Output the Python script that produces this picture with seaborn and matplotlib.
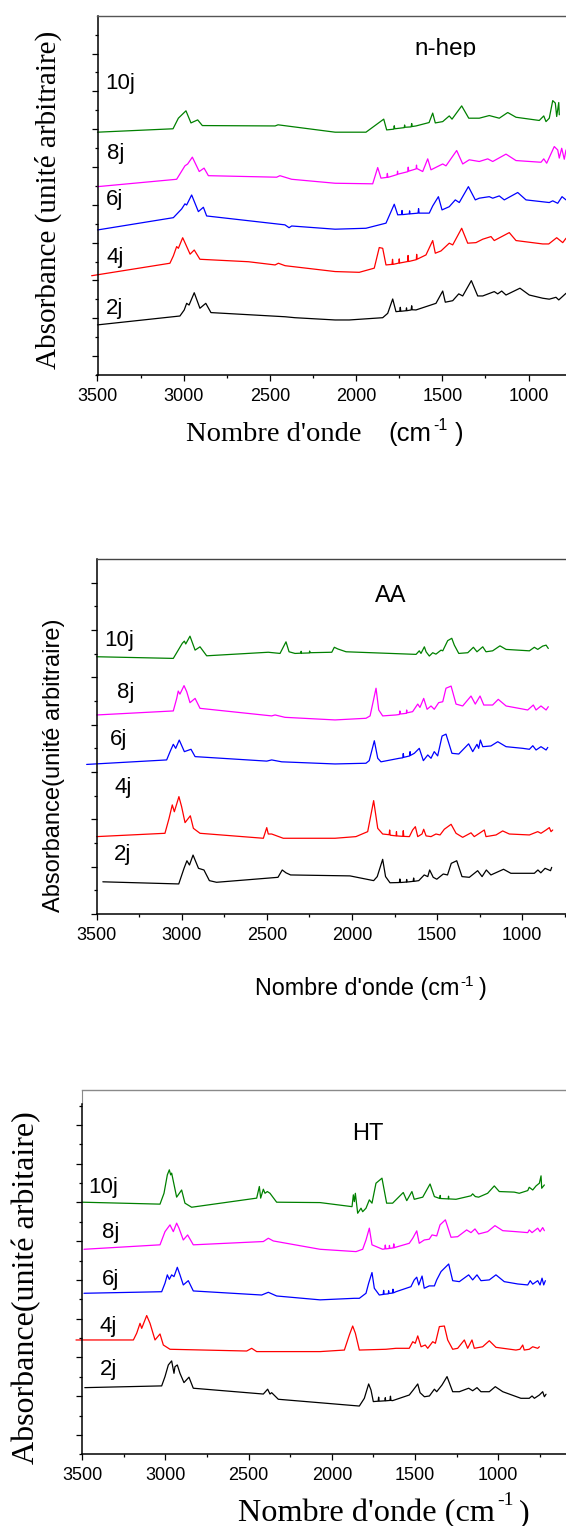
import matplotlib
matplotlib.use("Agg")
import matplotlib.pyplot as plt
import seaborn as sns
from matplotlib.ticker import MultipleLocator, FixedLocator, NullFormatter
from matplotlib.transforms import Bbox, TransformedBbox

# ---------------- n-heptane series ----------------
NHEP_2J_WN = [3500, 3022, 2997, 2983, 2969, 2939, 2906, 2872, 2842, 2412, 2355, 2122, 2040, 1846, 1817, 1788, 1769,
              1747, 1744, 1741, 1710, 1708, 1706, 1681, 1678, 1675,
              1653, 1537, 1498, 1483, 1440, 1405, 1382, 1332, 1295, 1266, 1199, 1179, 1156, 1131, 1050, 996, 918, 880, 841, 825, 783]
NHEP_2J_AB = [2.65, 3.12, 3.44, 3.79, 3.70, 4.35, 3.53, 3.79, 3.30, 3.08, 3.03, 2.91, 2.91, 3.03, 3.26, 4.02, 3.35,
              3.37, 3.58, 3.37, 3.40, 3.55, 3.40, 3.44, 3.66, 3.45,
              3.44, 3.79, 4.44, 3.85, 3.93, 4.29, 4.18, 4.99, 4.18, 4.18, 4.41, 4.29, 4.44, 4.23, 4.59, 4.23, 4.06, 4.01, 4.11, 3.97, 4.32]

NHEP_4J_WN = [3534, 3080, 3060, 3041, 3031, 3006, 2993, 2963, 2939, 2906, 2625, 2470, 2451, 2412, 2122, 1982, 1895, 1866, 1846, 1827,
              1792, 1789, 1786, 1752, 1750, 1748, 1702, 1699, 1696, 1651, 1649, 1647,
              1595, 1556, 1541, 1508, 1460, 1440, 1388, 1353, 1305, 1266, 1218, 1199, 1112, 1073, 918, 883, 837, 802, 783]
NHEP_4J_AB = [5.25, 5.91, 6.30, 6.79, 6.70, 7.26, 7.00, 6.39, 6.61, 6.12, 5.99, 5.82, 5.91, 5.78, 5.47, 5.43, 5.65, 6.74, 6.70, 5.82,
              5.85, 6.12, 5.85, 5.92, 6.14, 5.92, 6.00, 6.32, 6.00, 6.10, 6.38, 6.12,
              6.35, 7.11, 6.44, 6.56, 6.97, 6.88, 7.76, 6.97, 7.00, 7.18, 7.32, 7.11, 7.53, 7.11, 6.93, 6.93, 7.26, 7.00, 7.23]

NHEP_6J_WN = [3500, 3060, 3012, 2993, 2983, 2954, 2915, 2886, 2867, 2413, 2389, 2374, 2122, 1943, 1827, 1779, 1759,
              1737, 1734, 1731, 1692, 1690, 1688, 1641, 1638, 1635,
              1576, 1556, 1523, 1502, 1460, 1425, 1402, 1349, 1309, 1286, 1228, 1208, 1170, 1141, 1063, 1015, 880, 860, 831, 806, 783]
NHEP_6J_AB = [7.67, 8.32, 8.78, 9.05, 8.99, 9.52, 8.64, 8.87, 8.41, 7.94, 7.79, 7.88, 7.71, 7.76, 8.03, 9.03, 8.47,
              8.48, 8.70, 8.48, 8.52, 8.68, 8.52, 8.56, 8.80, 8.56,
              8.56, 8.94, 9.43, 8.73, 8.90, 9.26, 9.12, 9.96, 9.26, 9.35, 9.43, 9.35, 9.47, 9.26, 9.65, 9.26, 9.12, 9.21, 9.08, 9.43, 9.26]

NHEP_8J_WN = [3500, 3041, 2993, 2977, 2950, 2910, 2882, 2857, 2461, 2442, 2374, 2122, 1904, 1875, 1856,
              1822, 1819, 1816, 1762, 1760, 1758, 1701, 1698, 1695, 1652, 1650, 1648,
              1614, 1585, 1566, 1498, 1479, 1417, 1382, 1344, 1286, 1237, 1208, 1131, 1073, 928, 912, 895, 851, 831, 822, 808, 793, 783]
NHEP_8J_AB = [9.96, 10.35, 11.06, 11.16, 11.52, 10.76, 10.94, 10.54, 10.46, 10.54, 10.35, 10.14, 10.11, 10.97, 10.41,
              10.45, 10.66, 10.45, 10.60, 10.78, 10.62, 10.75, 10.99, 10.78, 10.90, 11.10, 10.92,
              10.76, 11.43, 10.85, 11.16, 11.06, 11.87, 11.16, 11.38, 11.29, 11.43, 11.29, 11.68, 11.34, 11.25, 11.43, 11.20, 12.08, 11.90, 11.47, 11.99, 11.41, 11.90]

NHEP_10J_WN = [3500, 3062, 3031, 2987, 2958, 2919, 2892, 2470, 2453, 2122, 1943, 1840, 1823,
               1782, 1779, 1776, 1721, 1719, 1717, 1681, 1678, 1675,
               1653, 1577, 1556, 1541, 1498, 1460, 1444, 1388, 1347, 1286, 1228, 1170, 1121, 1073, 938, 912, 899, 880, 860, 845, 837, 825, 822]
NHEP_10J_AB = [12.84, 13.02, 13.58, 13.97, 13.33, 13.49, 13.19, 13.17, 13.23, 12.84, 12.84, 13.53, 12.96,
               13.00, 13.18, 13.02, 13.08, 13.22, 13.10, 13.12, 13.30, 13.14,
               13.17, 13.35, 13.85, 13.33, 13.40, 13.70, 13.53, 14.23, 13.58, 13.58, 13.72, 13.58, 13.88, 13.63, 13.46, 13.70, 13.40, 13.58, 14.51, 14.38, 13.67, 14.41, 13.76]

# ---------------- AA series ----------------
AA_2J_WN = [3464, 3018, 2987, 2970, 2955, 2934, 2902, 2870, 2838, 2796, 2435, 2410, 2388, 2361, 2012, 1873, 1852, 1820, 1803, 1777,
            1722, 1719, 1716, 1681, 1679, 1677, 1641, 1638, 1635,
            1608, 1576, 1555, 1544, 1523, 1502, 1464, 1439, 1417, 1385, 1354, 1311, 1262, 1236, 1211, 1184, 1110, 1067, 929, 908, 891, 866, 834, 827]
AA_2J_AB = [1.36, 1.27, 1.93, 2.25, 2.07, 2.49, 1.93, 1.86, 1.41, 1.34, 1.55, 1.86, 1.74, 1.65, 1.61, 1.41, 1.58, 2.31, 1.58, 1.32,
            1.33, 1.48, 1.33, 1.35, 1.46, 1.35, 1.38, 1.52, 1.38,
            1.41, 1.65, 1.58, 1.86, 1.55, 1.47, 1.69, 1.65, 2.14, 2.25, 1.58, 1.55, 1.83, 1.58, 1.86, 1.65, 1.89, 1.72, 1.72, 1.86, 1.74, 1.93, 1.83, 1.97]

AA_4J_WN = [3500, 3099, 3075, 3056, 3044, 3017, 3001, 2981, 2950, 2932, 2893, 2521, 2501, 2492, 2472, 2404, 2100, 1977, 1908, 1873, 1849, 1820,
            1782, 1779, 1776, 1741, 1739, 1737, 1702, 1699, 1696,
            1663, 1644, 1628, 1614, 1589, 1579, 1565, 1536, 1507, 1483, 1458, 1418, 1389, 1350, 1301, 1282, 1252, 1223, 1213, 1154,
            1115, 1076, 958, 909, 890, 860, 841, 831, 821]
AA_4J_AB = [3.27, 3.41, 4.04, 4.61, 4.32, 4.96, 4.53, 3.86, 4.15, 3.62, 3.41, 3.20, 3.65, 3.38, 3.38, 3.20, 3.20, 3.27, 3.48, 4.79, 3.62, 3.38,
            3.35, 3.55, 3.33, 3.30, 3.48, 3.30, 3.28, 3.52, 3.28,
            3.27, 3.55, 3.69, 3.27, 3.38, 3.58, 3.30, 3.27, 3.38, 3.34, 3.58, 3.79, 3.41, 3.24, 3.43, 3.27, 3.41, 3.55, 3.27, 3.34,
            3.51, 3.38, 3.34, 3.48, 3.41, 3.55, 3.65, 3.48, 3.55]

AA_6J_WN = [3559, 3089, 3069, 3050, 3036, 3015, 2985, 2946, 2922, 2501, 2472, 2413, 2100, 1918, 1899, 1869, 1849, 1830, 1722,
            1702, 1699, 1696, 1661, 1659, 1657,
            1634, 1605, 1581, 1555, 1536, 1517, 1497, 1471, 1448, 1413, 1373, 1315, 1291, 1266, 1256, 1246, 1232, 1184, 1144, 1095,
            997, 958, 938, 919, 890, 860, 850]
AA_6J_AB = [6.32, 6.51, 6.86, 7.17, 7.00, 7.35, 6.86, 6.96, 6.65, 6.46, 6.51, 6.43, 6.34, 6.37, 6.48, 7.32, 6.58, 6.43, 6.58,
            6.60, 6.78, 6.62, 6.68, 6.86, 6.70,
            6.79, 7.00, 6.48, 6.72, 6.58, 6.86, 6.68, 7.52, 7.60, 6.79, 6.76, 7.19, 6.86, 7.17, 7.00, 7.35, 7.07, 7.10, 7.28, 7.07,
            7.00, 6.96, 7.11, 6.93, 7.07, 6.93, 7.04]

AA_8J_WN = [3500, 3050, 3030, 3021, 3011, 2987, 2971, 2952, 2922, 2893, 2472, 2452, 2394, 2100, 1918, 1894, 1859, 1843, 1820, 1742,
            1722, 1719, 1716, 1681, 1679, 1677,
            1644, 1614, 1601, 1579, 1559, 1536, 1517, 1491, 1467, 1448, 1418, 1389, 1350, 1301, 1276, 1248, 1226, 1174, 1141, 1095,
            997, 968, 935, 919, 890, 860, 847]
AA_8J_AB = [8.41, 8.58, 9.11, 9.42, 9.29, 9.65, 9.39, 8.93, 9.11, 8.69, 8.37, 8.41, 8.31, 8.20, 8.27, 8.37, 9.54, 8.62, 8.37, 8.41,
            8.43, 8.58, 8.45, 8.48, 8.62, 8.50,
            8.55, 8.87, 8.73, 9.11, 8.65, 8.79, 8.65, 8.93, 8.97, 9.54, 9.63, 8.87, 8.79, 9.21, 8.87, 9.21, 8.83, 8.83, 9.07, 8.79,
            8.66, 8.62, 8.83, 8.62, 8.79, 8.62, 8.76]

AA_10J_WN = [3500, 3050, 3021, 2997, 2985, 2977, 2952, 2922, 2893, 2854, 2492, 2423, 2388, 2370, 2335,
             2301, 2299, 2297, 2251, 2249, 2247,
             2119, 2104, 2084, 2035, 1624, 1605, 1595, 1575, 1565, 1546, 1526, 1507, 1477, 1467, 1438, 1414, 1399, 1373, 1320, 1287,
             1266, 1232, 1213, 1174, 1131, 1095, 958, 929, 909, 880, 860, 847]
AA_10J_AB = [10.87, 10.80, 11.15, 11.44, 11.53, 11.41, 11.74, 11.15, 11.29, 10.91, 11.06, 11.01, 11.50, 11.08, 11.01,
             11.02, 11.10, 11.02, 11.03, 11.11, 11.04,
             11.06, 11.27, 11.20, 11.08, 10.97, 11.12, 11.01, 11.29, 11.08, 10.90, 11.04, 10.98, 11.15, 11.12, 11.55, 11.65, 11.36, 11.01, 11.04, 11.27,
             11.08, 11.29, 11.08, 11.12, 11.33, 11.18, 11.12, 11.27, 11.18, 11.32, 11.36, 11.22]

# ---------------- HT series ----------------
HT_2J_WN = [3485, 3023, 3003, 2983, 2963, 2949, 2943, 2929, 2913, 2889, 2859, 2833, 2412, 2386, 2372, 2362, 2322, 2071, 1835, 1805, 1779, 1765, 1751,
            1722, 1719, 1716, 1681, 1679, 1677, 1651, 1648, 1645,
            1635, 1535, 1511, 1484, 1470, 1444, 1414, 1384, 1370, 1338, 1308, 1274, 1234, 1178, 1154, 1128, 1104, 1054, 1018, 973,
            864, 814, 797, 783, 753, 733, 723, 713]
HT_2J_AB = [3.44, 3.53, 4.01, 4.61, 4.82, 4.18, 4.52, 4.61, 4.18, 3.70, 3.98, 3.41, 3.11, 3.36, 3.11, 3.18, 2.84, 2.66, 2.49, 2.89, 3.63, 3.32, 2.72,
            2.74, 2.95, 2.74, 2.76, 2.92, 2.76, 2.78, 3.00, 2.78,
            2.77, 3.06, 3.32, 3.63, 3.18, 2.97, 3.01, 3.36, 3.23, 3.58, 4.01, 3.23, 3.23, 3.41, 3.28, 3.44, 3.23, 3.23, 3.49, 3.23,
            2.89, 2.89, 3.01, 2.89, 3.06, 3.23, 2.97, 3.10]

HT_4J_WN = [3538, 3193, 3173, 3153, 3143, 3113, 3093, 3063, 3033, 3013, 2973, 2512, 2482, 2452, 2071, 1925, 1895, 1875, 1859, 1835,
            1675, 1615, 1535, 1514, 1499, 1484, 1464, 1439, 1424, 1394, 1378, 1354, 1324, 1304, 1274, 1244, 1204, 1184, 1158, 1144,
            1094, 1054, 1014, 894, 870, 853, 844, 814, 793, 763, 753]
HT_4J_AB = [5.90, 5.90, 6.25, 6.76, 6.50, 7.16, 6.76, 5.90, 6.21, 5.64, 5.42, 5.33, 5.47, 5.30, 5.30, 5.38, 6.16, 6.62, 6.25, 5.38,
            5.42, 5.47, 5.47, 5.81, 5.73, 6.11, 5.55, 5.64, 5.47, 5.81, 5.73, 6.59, 6.62, 5.90, 5.42, 5.47, 5.90, 5.47, 5.90, 5.47,
            5.55, 5.86, 5.52, 5.38, 5.42, 5.64, 5.38, 5.42, 5.55, 5.47, 5.55]

HT_6J_WN = [3490, 3023, 3003, 2989, 2977, 2963, 2949, 2929, 2913, 2893, 2863, 2833, 2422, 2382, 2332, 2071, 1865, 1835, 1795, 1779, 1759, 1745, 1715,
            1692, 1689, 1686, 1661, 1659, 1657, 1636, 1633, 1630,
            1615, 1525, 1505, 1490, 1478, 1458, 1445, 1415, 1384, 1370, 1344, 1298, 1274, 1234, 1178, 1154, 1128, 1104, 1054, 1014,
            964, 883, 823, 808, 793, 763, 749, 737, 727, 717]
HT_6J_AB = [8.31, 8.39, 8.83, 9.26, 9.03, 9.26, 9.17, 9.65, 9.26, 8.74, 8.96, 8.43, 8.22, 8.36, 8.17, 7.97, 8.05, 8.05, 8.31, 8.83, 9.38, 8.57, 8.22,
            8.25, 8.46, 8.26, 8.28, 8.44, 8.30, 8.32, 8.52, 8.33,
            8.39, 8.65, 9.00, 9.14, 8.74, 9.20, 8.57, 8.69, 8.69, 9.00, 9.43, 9.82, 8.96, 8.91, 9.26, 9.00, 9.26, 8.96, 9.00, 9.26,
            8.91, 8.79, 8.74, 8.96, 8.78, 8.96, 8.74, 9.09, 8.74, 8.96]

HT_8J_WN = [3490, 3033, 3003, 2973, 2953, 2933, 2919, 2893, 2867, 2833, 2412, 2382, 2352, 2071, 1855, 1815, 1795, 1775, 1759, 1695,
            1682, 1679, 1676, 1656, 1654, 1652, 1631, 1628, 1625,
            1615, 1535, 1514, 1490, 1475, 1445, 1415, 1398, 1370, 1350, 1318, 1284, 1244, 1190, 1164, 1140, 1118, 1064, 1020, 973,
            894, 823, 814, 797, 763, 749, 733, 723]
HT_8J_AB = [10.58, 10.81, 11.49, 11.84, 11.49, 11.93, 11.67, 11.06, 11.32, 10.81, 10.98, 11.15, 11.01, 10.58, 10.46, 10.58, 11.06, 11.67, 10.81, 10.58,
            10.60, 10.80, 10.60, 10.62, 10.78, 10.63, 10.65, 10.86, 10.66,
            10.69, 10.89, 11.15, 11.53, 10.89, 11.06, 11.10, 11.32, 11.27, 11.84, 12.10, 11.20, 11.23, 11.58, 11.44, 11.63, 11.37, 11.49, 11.80, 11.54,
            11.49, 11.44, 11.58, 11.44, 11.67, 11.49, 11.70, 11.54]

HT_10J_WN = [3500, 3033, 3009, 2989, 2977, 2969, 2963, 2933, 2903, 2883, 2843, 2452, 2436, 2428, 2412, 2402, 2388, 2372, 2332, 2071,
             1879, 1871, 1865, 1859, 1845, 1825, 1815, 1795, 1775, 1759, 1735, 1699, 1671, 1635, 1571, 1550, 1519, 1505, 1454, 1410, 1384,
             1351, 1349, 1347, 1301, 1299, 1297,
             1254, 1164, 1154, 1138, 1118, 1064, 1024, 994, 904, 874, 823, 814, 793, 773, 753, 743, 739, 723]
HT_10J_AB = [13.01, 12.91, 13.47, 14.42, 14.68, 14.42, 14.51, 13.27, 13.64, 12.96, 12.75, 13.22, 13.82, 13.22, 13.68, 13.47, 13.56, 13.47, 13.01, 12.99,
             12.78, 13.39, 13.04, 13.47, 12.44, 12.70, 12.52, 12.70, 13.13, 12.96, 13.99, 14.25, 12.96, 12.96, 13.51, 13.09, 13.56, 13.16, 13.27, 13.95, 13.30,
             13.20, 13.36, 13.20, 13.18, 13.32, 13.18,
             13.16, 13.34, 13.44, 13.30, 13.27, 13.47, 13.85, 13.56, 13.53, 13.47, 13.61, 13.78, 13.64, 13.85, 13.99, 14.37, 13.73, 13.90]

DAY_LABELS = ["2j", "4j", "6j", "8j", "10j"]
DAY_COLORS = ["black", "#ff0000", "#0000ff", "#ff00ff", "#008000"]
PANEL_TITLES = ["n-hep", "AA", "HT"]
X_TICKS = [3500, 3000, 2500, 2000, 1500, 1000]

# ---------------- figure ----------------
W, H = 566, 1526
sns.set_theme(style="ticks")
plt.rcParams["font.family"] = ["Liberation Sans", "DejaVu Sans"]
SANS = ["Liberation Sans", "DejaVu Sans"]
SERIF = ["Liberation Serif", "DejaVu Serif"]

fig = plt.figure(figsize=(W / 100, H / 100), dpi=100)
renderer = fig.canvas.get_renderer()


def fx(x):
    return x / W


def fy(y):
    return 1 - y / H


def make_axes(left, top, bottom):
    return fig.add_axes([fx(left), fy(bottom), fx(W - left), (bottom - top) / H])


def style_axes(ax, xright, ytop, ymajor, yminor, top_color):
    ax.set_xlim(3500, xright)
    ax.set_ylim(0, ytop)
    ax.xaxis.set_major_locator(FixedLocator(X_TICKS))
    ax.xaxis.set_minor_locator(MultipleLocator(250))
    ax.yaxis.set_major_locator(FixedLocator(ymajor))
    ax.yaxis.set_minor_locator(FixedLocator(yminor))
    ax.yaxis.set_major_formatter(NullFormatter())
    ax.tick_params(which="both", direction="out", width=0.9, color="black",
                   top=False, right=False)
    ax.tick_params(which="major", length=4.2)
    ax.tick_params(which="minor", length=2.2)
    ax.tick_params(axis="x", which="major", labelsize=13, pad=5.0, labelcolor="black")
    for side in ("left", "bottom"):
        ax.spines[side].set_color("black")
        ax.spines[side].set_linewidth(1.1)
    ax.spines["right"].set_visible(False)
    ax.spines["top"].set_color(top_color)
    ax.spines["top"].set_linewidth(1.0)
    ax.set_xlabel("")
    ax.set_ylabel("")
    ax.grid(False)
    ax.patch.set_alpha(0)


def draw_series(ax, wns, abss):
    for wn, ab, col in zip(wns, abss, DAY_COLORS):
        sns.lineplot(x=wn, y=ab, color=col, lw=0.9, ax=ax, sort=False,
                     estimator=None, clip_on=False)


def label(x, y, s, size, **kw):
    return fig.text(fx(x), fy(y), s, fontsize=size, color="black", **kw)


def chain(x, y, parts):
    """Write text pieces one after another; each piece is
    (text, size, raise_px, family, gap_before_px)."""
    for s, size, rise, fam, gap in parts:
        x += gap
        t = label(x, y - rise, s, size, ha="left", va="baseline", family=fam)
        x += t.get_window_extent(renderer).width


# Panel 1 : n-heptane
ax1 = make_axes(97.5, 15.7, 375)
draw_series(ax1, [NHEP_2J_WN, NHEP_4J_WN, NHEP_6J_WN, NHEP_8J_WN, NHEP_10J_WN],
            [NHEP_2J_AB, NHEP_4J_AB, NHEP_6J_AB, NHEP_8J_AB, NHEP_10J_AB])
style_axes(ax1, 783, 19, list(range(1, 18, 2)), list(range(0, 19, 2)), "#555555")

# Panel 2 : AA
ax2 = make_axes(96.7, 559, 914)
draw_series(ax2, [AA_2J_WN, AA_4J_WN, AA_6J_WN, AA_8J_WN, AA_10J_WN],
            [AA_2J_AB, AA_4J_AB, AA_6J_AB, AA_8J_AB, AA_10J_AB])
style_axes(ax2, 743, 15, list(range(0, 15, 2)), list(range(1, 15, 2)), "#444444")

# Panel 3 : HT
ax3 = make_axes(82.3, 1090, 1454.3)
draw_series(ax3, [HT_2J_WN, HT_4J_WN, HT_6J_WN, HT_8J_WN, HT_10J_WN],
            [HT_2J_AB, HT_4J_AB, HT_6J_AB, HT_8J_AB, HT_10J_AB])
style_axes(ax3, 593, 18.8, list(range(1, 18, 2)), list(range(0, 19, 2)), "#8a8a8a")
ax3.spines["left"].set_bounds(0, 18.1)
ax3.axvline(3500, ymin=18.1 / 18.8, ymax=1, color="#8a8a8a", lw=0.8, clip_on=False)

# ---- day labels ----
for s, (x, y) in zip(DAY_LABELS, [(105.7, 314), (106.7, 262.7), (105.7, 205), (106.7, 159), (105, 89.3)]):
    label(x, y, s, 16, ha="left", va="baseline")
for s, (x, y) in zip(DAY_LABELS, [(114.3, 860), (114.3, 792.7), (110, 745), (116.7, 698.3), (104.7, 646)]):
    label(x, y, s, 16, ha="left", va="baseline")
for s, (x, y) in zip(DAY_LABELS, [(100, 1375), (100, 1331.7), (101.7, 1285), (101.7, 1238.3), (88.3, 1193.3)]):
    label(x, y, s, 16, ha="left", va="baseline")

# ---- panel titles ----
t = label(445.5, 55, PANEL_TITLES[0], 17.5, ha="center", va="baseline")
t.set_clip_box(TransformedBbox(Bbox([[0, fy(56.5)], [1, 1]]), fig.transFigure))
t.set_clip_on(True)
label(391, 601.7, PANEL_TITLES[1], 17, ha="center", va="baseline")
label(368, 1140, PANEL_TITLES[2], 17, ha="center", va="baseline")

# ---- y labels ----
label(48.7, 200, "Absorbance (unité arbitraire)", 21, rotation=90,
      ha="center", va="center", family=SERIF)
label(54, 765.5, "Absorbance(unité arbitraire)", 17, rotation=90,
      ha="center", va="center")
label(27, 1287.5, "Absorbance(unité arbitaire)", 23, rotation=90,
      ha="center", va="center", family=SERIF)

# ---- x labels ----
chain(186, 440.7, [("Nombre d'onde", 20.5, 0, SERIF, 0)])
chain(388, 440.7, [("(cm", 18.5, 0, SANS, 0), ("-1", 11.5, 11, SANS, 2), (")", 18.5, 0, SANS, 8)])
chain(255, 995, [("Nombre d'onde (cm", 16.8, 0, SANS, 0), ("-1", 11, 9, SANS, 1), (")", 16.8, 0, SANS, 5)])
chain(238, 1521.7, [("Nombre d'onde (cm", 23.2, 0, SERIF, 0), ("-1", 14, 17, SERIF, 2), (")", 23.2, 0, SERIF, 6)])

fig.savefig("out.png", dpi=100)
